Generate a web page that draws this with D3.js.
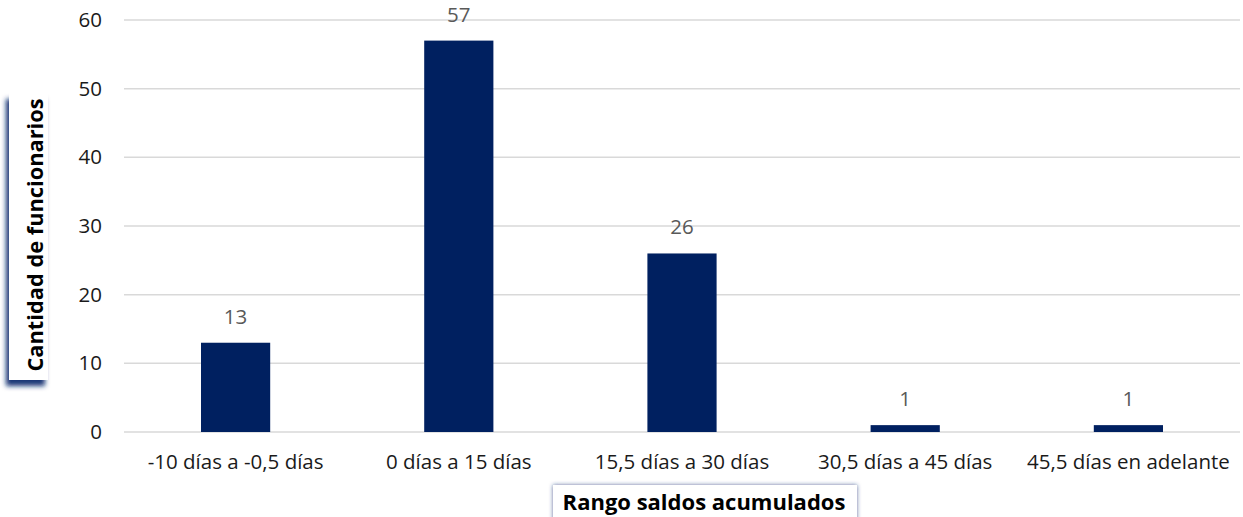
<!DOCTYPE html>
<html><head><meta charset="utf-8">
<script src="https://cdn.jsdelivr.net/npm/d3@7"></script>
<style>body{margin:0;background:#fff;} svg{display:block;}</style>
</head><body>
<script>
const categories = ["-10 días a -0,5 días","0 días a 15 días","15,5 días a 30 días","30,5 días a 45 días","45,5 días en adelante"];
const values = [13,57,26,1,1];
const yTicks = [0,10,20,30,40,50,60];
const yTitle = "Cantidad de funcionarios";
const xTitle = "Rango saldos acumulados";

const W=1243,H=517;
const svg=d3.select("body").append("svg").attr("width",W).attr("height",H);
const font="'Open Sans', sans-serif";
const defs=svg.append("defs");
const f=defs.append("filter").attr("id","sh").attr("x","-50%").attr("y","-20%").attr("width","200%").attr("height","140%");
f.append("feDropShadow").attr("dx",-3).attr("dy",6).attr("stdDeviation",2.5).attr("flood-color","#0f2a6e").attr("flood-opacity",0.95);
const f2=defs.append("filter").attr("id","sh2").attr("x","-20%").attr("y","-50%").attr("width","140%").attr("height","200%");
f2.append("feDropShadow").attr("dx",0).attr("dy",0).attr("stdDeviation",2).attr("flood-color","#1a3375").attr("flood-opacity",0.7);

const x=d3.scaleBand().domain(categories).range([124,1240]).paddingInner(0.69).paddingOuter(0.345);
const y=d3.scaleLinear().domain([0,60]).range([432,20]);

svg.append("g").selectAll("line").data(yTicks).join("line")
 .attr("x1",124).attr("x2",1240).attr("y1",d=>y(d)).attr("y2",d=>y(d))
 .attr("stroke","#d9d9d9").attr("stroke-width",1.5);

const ya=svg.append("g").attr("transform","translate(124,0)")
 .call(d3.axisLeft(y).tickValues(yTicks).tickSize(0).tickPadding(22));
ya.select(".domain").remove();
ya.selectAll("text").attr("font-family",font).attr("font-size",20.5).attr("fill","#1a1a1a");

svg.append("g").selectAll("rect").data(values).join("rect")
 .attr("x",(d,i)=>x(categories[i])).attr("width",x.bandwidth())
 .attr("y",d=>y(d)).attr("height",d=>y(0)-y(d)).attr("fill","#002060");

svg.append("g").selectAll("text").data(values).join("text")
 .attr("x",(d,i)=>x(categories[i])+x.bandwidth()/2).attr("y",d=>y(d)-19)
 .attr("text-anchor","middle").attr("font-family",font).attr("font-size",20.5).attr("fill","#595959").text(d=>d);

const xa=svg.append("g").attr("transform","translate(0,432)")
 .call(d3.axisBottom(x).tickSize(0).tickPadding(22));
xa.select(".domain").remove();
xa.selectAll("text").attr("font-family",font).attr("font-size",20.5).attr("fill","#1a1a1a");

// y title box
svg.append("rect").attr("x",9).attr("y",93).attr("width",39).attr("height",287).attr("fill","#fff").attr("filter","url(#sh)");
svg.append("text").attr("transform","translate(43,235) rotate(-90)").attr("text-anchor","middle")
 .attr("font-family",font).attr("font-weight","bold").attr("font-size",21.8).attr("fill","#000").text(yTitle);

// x title box
svg.append("rect").attr("x",553).attr("y",485).attr("width",304).attr("height",45).attr("fill","#fff").attr("filter","url(#sh2)");
svg.append("text").attr("x",704).attr("y",510).attr("text-anchor","middle")
 .attr("font-family",font).attr("font-weight","bold").attr("font-size",22).attr("fill","#000").text(xTitle);
</script>
</body></html>
